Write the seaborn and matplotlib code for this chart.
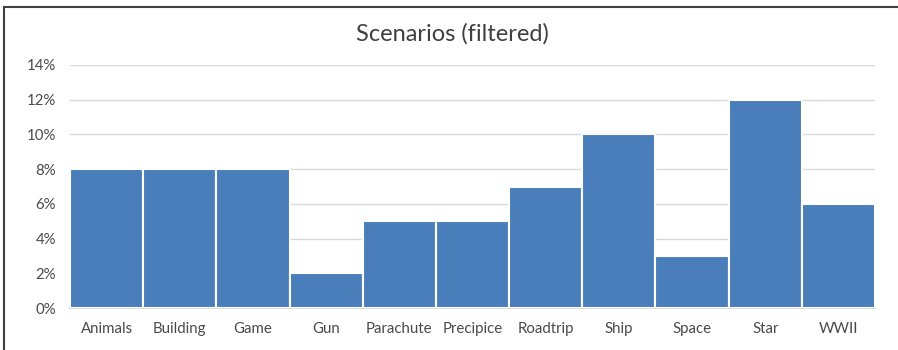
import matplotlib
matplotlib.use("Agg")
import matplotlib.pyplot as plt
from matplotlib.patches import Rectangle
from matplotlib.ticker import FuncFormatter, MultipleLocator
import seaborn as sns
import pandas as pd

categories = ["Animals", "Building", "Game", "Gun", "Parachute", "Precipice",
              "Roadtrip", "Ship", "Space", "Star", "WWII"]
shares = [8, 8, 8, 2, 5, 5, 7, 10, 3, 12, 6]

df = pd.DataFrame({"scenario": categories, "share": shares})

sns.set_theme(style="white")
plt.rcParams["font.family"] = ["Lato", "DejaVu Sans"]

fig = plt.figure(figsize=(8.98, 3.5), dpi=100)
ax = fig.add_axes([70 / 898, 1 - 308 / 350, (875 - 70) / 898, (308 - 65) / 350])

sns.barplot(data=df, x="scenario", y="share", color="#4A7EBB", saturation=1,
            width=1.0, edgecolor="white", linewidth=1.5, ax=ax, zorder=3)

ax.set_ylim(0, 14)
ax.set_xlim(-0.5, len(categories) - 0.5)
ax.yaxis.set_major_locator(MultipleLocator(2))
ax.yaxis.set_major_formatter(FuncFormatter(lambda v, _: f"{v:.0f}%"))
ax.grid(axis="y", color="#D9D9D9", linewidth=1, zorder=0)
ax.set_axisbelow(True)
for s in ["top", "right", "left"]:
    ax.spines[s].set_visible(False)
ax.spines["bottom"].set_color("#D9D9D9")
ax.set_xlabel("")
ax.set_ylabel("")
ax.tick_params(axis="both", length=0, labelsize=10.8, labelcolor="#4A4A4A")
ax.tick_params(axis="x", pad=10)
ax.tick_params(axis="y", pad=10)

fig.text(452 / 898, 1 - 34 / 350, "Scenarios (filtered)", ha="center", va="center",
         fontsize=17, color="#404040")

# outer chart frame
fig.patches.append(Rectangle((4 / 898, -0.05), 1.1, 1 - 7 / 350 + 0.05,
                             transform=fig.transFigure, fill=False,
                             edgecolor="#404040", linewidth=1.5))

fig.savefig("out.png", dpi=100)
